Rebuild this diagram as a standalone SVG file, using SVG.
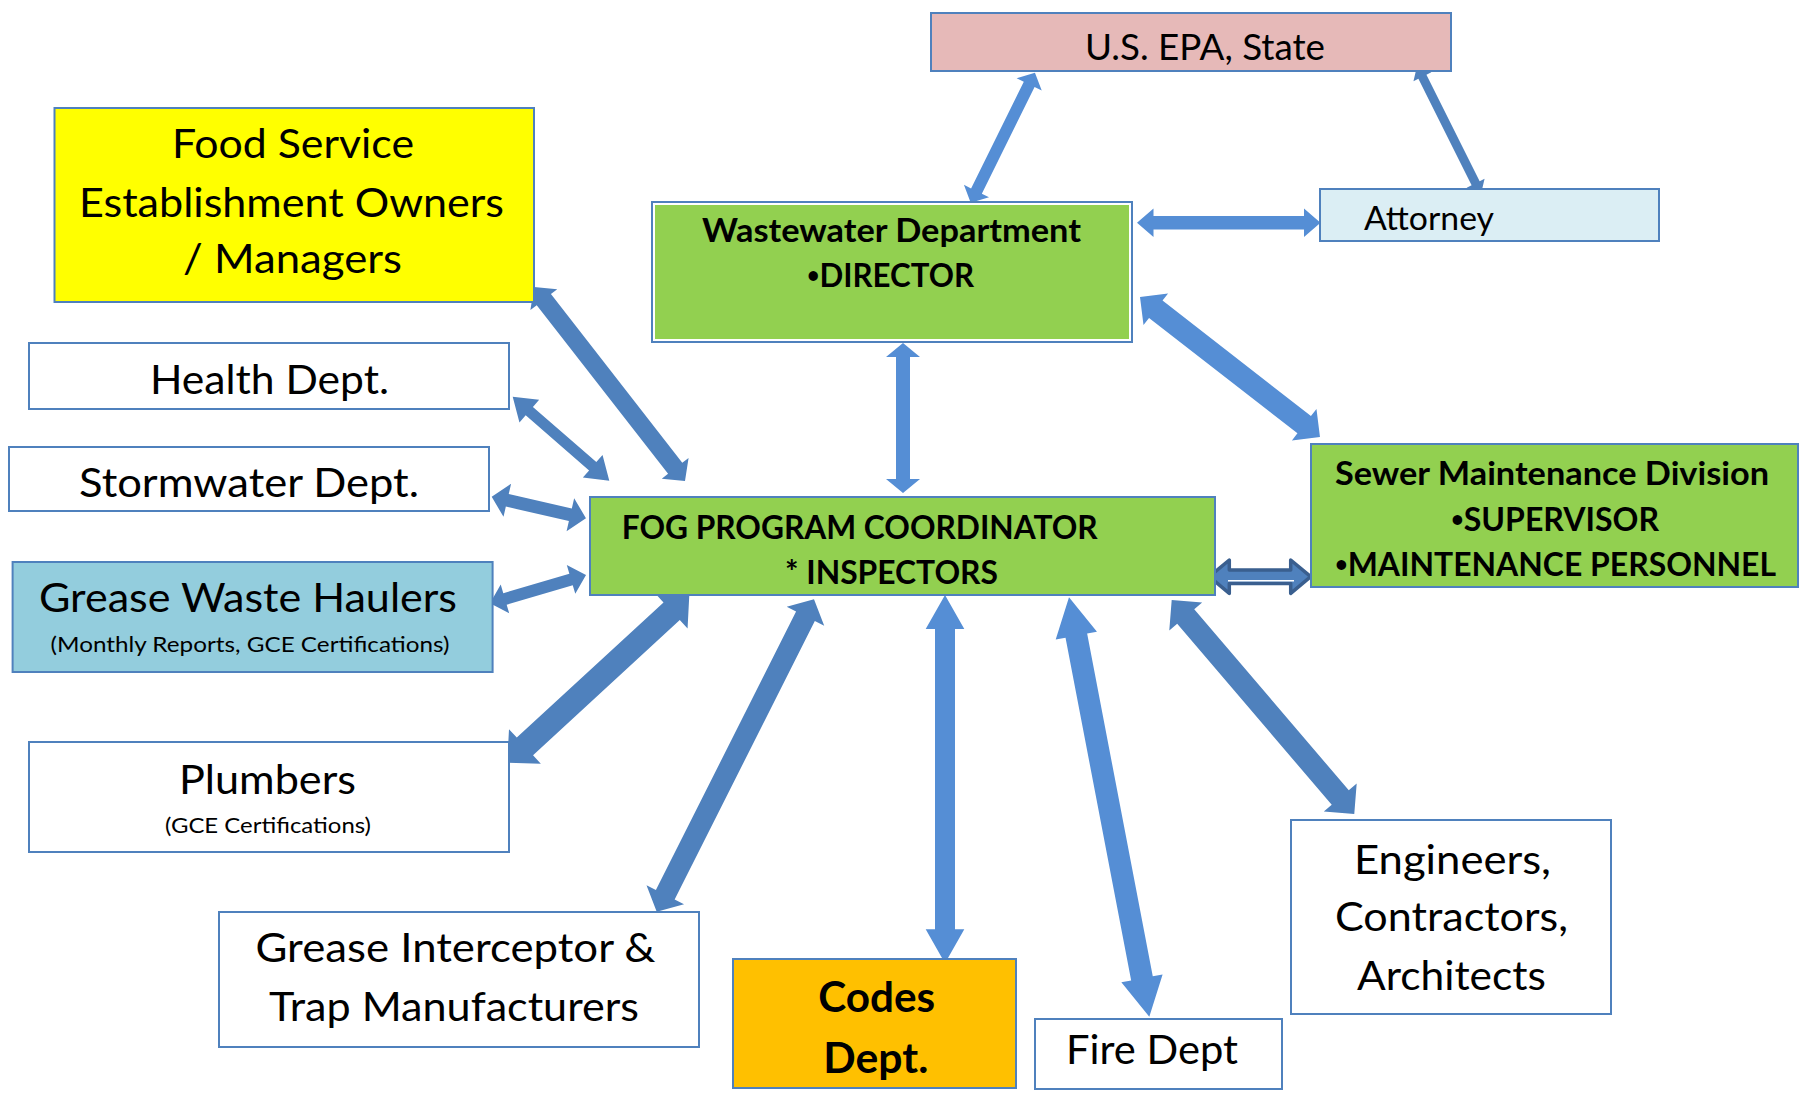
<svg xmlns="http://www.w3.org/2000/svg" width="1807" height="1095" viewBox="0 0 1807 1095">
  <style>
    .box { stroke: #4F81BD; stroke-width: 2; }
    .white { fill: #FFFFFF; }
    .green { fill: #92D050; }
    .t { font-family: Lato, "Liberation Sans", sans-serif; fill: #000000; }
    .c { text-anchor: middle; }
    .b { font-weight: bold; }
    .bul { font-size: 22px; }
    .lt { fill: #558ED5; }
    .dk { fill: #4F81BD; }
    .dbl { fill: #4F81BD; stroke: #3A5F8F; stroke-width: 3.5; stroke-linejoin: round; }
  </style>

  <!-- connectors: double-headed block arrows, drawn along +x then rotated into place -->
  <g id="connectors">
    <!-- Wastewater <-> U.S. EPA -->
    <path class="lt" transform="translate(970.7,202.7) rotate(-63.7)" d="M0,0 L13,-14 L13,-6 L132,-6 L132,-14 L145,0 L132,14 L132,6 L13,6 L13,14 Z"/>
    <!-- Attorney <-> U.S. EPA -->
    <path class="dk" transform="translate(1481,194) rotate(-116.57)" d="M0,0 L12,-10 L12,-4.5 L131,-4.5 L131,-10 L143,0 L131,10 L131,4.5 L12,4.5 L12,10 Z"/>
    <!-- Wastewater <-> Attorney -->
    <path class="lt" transform="translate(1137,222.7)" d="M0,0 L16.5,-14.3 L16.5,-6.7 L167,-6.7 L167,-14.3 L183.5,0 L167,14.3 L167,6.7 L16.5,6.7 L16.5,14.3 Z"/>
    <!-- Wastewater <-> Sewer Maintenance -->
    <path class="lt" transform="translate(1140,297) rotate(37.87)" d="M0,0 L20,-20 L20,-11 L208,-11 L208,-20 L228,0 L208,20 L208,11 L20,11 L20,20 Z"/>
    <!-- Wastewater <-> FOG -->
    <path class="lt" transform="translate(903,343) rotate(90)" d="M0,0 L14,-17 L14,-7 L136,-7 L136,-17 L150,0 L136,17 L136,7 L14,7 L14,17 Z"/>
    <!-- Food Service <-> FOG -->
    <path class="dk" transform="translate(534,287) rotate(52.1)" d="M0,0 L16,-17 L16,-9 L229.8,-9 L229.8,-17 L245.8,0 L229.8,17 L229.8,9 L16,9 L16,17 Z"/>
    <!-- Health <-> FOG -->
    <path class="dk" transform="translate(512.7,396.7) rotate(41)" d="M0,0 L22,-15 L22,-5.5 L106,-5.5 L106,-15 L128,0 L106,15 L106,5.5 L22,5.5 L22,15 Z"/>
    <!-- Stormwater <-> FOG -->
    <path class="dk" transform="translate(491.7,496.7) rotate(12.9)" d="M0,0 L16,-17 L16,-6.5 L80.7,-6.5 L80.7,-17 L96.7,0 L80.7,17 L80.7,6.5 L16,6.5 L16,17 Z"/>
    <!-- Grease Waste Haulers <-> FOG -->
    <path class="dk" transform="translate(490,603.3) rotate(-16.43)" d="M0,0 L15.6,-15 L15.6,-6 L84.5,-6 L84.5,-15 L100.1,0 L84.5,15 L84.5,6 L15.6,6 L15.6,15 Z"/>
    <!-- FOG <-> Plumbers -->
    <path class="dk" transform="translate(689.3,595) rotate(137.35)" d="M0,0 L24,-23.5 L24,-12 L223.5,-12 L223.5,-23.5 L247.5,0 L223.5,23.5 L223.5,12 L24,12 L24,23.5 Z"/>
    <!-- FOG <-> Grease Interceptor -->
    <path class="dk" transform="translate(814,599.3) rotate(116.72)" d="M0,0 L19,-21 L19,-10.5 L330.8,-10.5 L330.8,-21 L349.8,0 L330.8,21 L330.8,10.5 L19,10.5 L19,21 Z"/>
    <!-- FOG <-> Codes -->
    <path class="lt" transform="translate(945,595) rotate(90)" d="M0,0 L34,-19.3 L34,-10 L334.3,-10 L334.3,-19.3 L368.3,0 L334.3,19.3 L334.3,10 L34,10 L34,19.3 Z"/>
    <!-- FOG <-> Fire -->
    <path class="lt" transform="translate(1069,597.3) rotate(79.16)" d="M0,0 L39,-21 L39,-11 L388,-11 L388,-21 L427,0 L388,21 L388,11 L39,11 L39,21 Z"/>
    <!-- FOG <-> Engineers -->
    <path class="dk" transform="translate(1171.7,600) rotate(49.53)" d="M0,0 L21.6,-21.6 L21.6,-11.2 L259.7,-11.2 L259.7,-21.6 L281.3,0 L259.7,21.6 L259.7,11.2 L21.6,11.2 L21.6,21.6 Z"/>
    <!-- FOG <-> Sewer Maintenance (outlined) -->
    <path class="dbl" transform="translate(1209.3,576.7)" d="M0,0 L20,-16.7 L20,-6.7 L81.4,-6.7 L81.4,-16.7 L101.4,0 L81.4,16.7 L81.4,6.7 L20,6.7 L20,16.7 Z"/>
    <line x1="1228" y1="580.8" x2="1294" y2="580.8" stroke="#FFFFFF" stroke-width="1.5"/>
  </g>

  <g id="epa">
    <rect class="box" x="931" y="13" width="520" height="58" fill="#E6B9B8"/>
    <text class="t c" x="1205" y="60" font-size="36" textLength="240" lengthAdjust="spacingAndGlyphs">U.S. EPA, State</text>
  </g>

  <g id="wastewater">
    <rect class="box white" x="652" y="202" width="480" height="140"/>
    <rect class="green" x="655" y="205" width="474" height="134"/>
    <text class="t c b" x="891.5" y="242" font-size="32" textLength="379" lengthAdjust="spacingAndGlyphs">Wastewater Department</text>
    <text class="t c b" x="890.5" y="287" font-size="32" textLength="167" lengthAdjust="spacingAndGlyphs"><tspan class="bul" dy="-4">•</tspan><tspan dy="4">DIRECTOR</tspan></text>
  </g>

  <g id="attorney">
    <rect class="box" x="1320" y="189" width="339" height="52" fill="#DBEEF4"/>
    <text class="t" x="1364" y="230" font-size="32" textLength="130" lengthAdjust="spacingAndGlyphs">Attorney</text>
  </g>

  <g id="food-service">
    <rect class="box" x="54.5" y="108" width="479.5" height="194" fill="#FFFF00"/>
    <text class="t c" x="293" y="158" font-size="41" textLength="242" lengthAdjust="spacingAndGlyphs">Food Service</text>
    <text class="t c" x="291.5" y="217" font-size="41" textLength="425" lengthAdjust="spacingAndGlyphs">Establishment Owners</text>
    <text class="t c" x="292.5" y="273" font-size="41" textLength="219" lengthAdjust="spacingAndGlyphs">/ Managers</text>
  </g>

  <g id="health">
    <rect class="box white" x="29" y="343" width="480" height="66"/>
    <text class="t c" x="269.5" y="394" font-size="41" textLength="239" lengthAdjust="spacingAndGlyphs">Health Dept.</text>
  </g>

  <g id="stormwater">
    <rect class="box white" x="9" y="447" width="480" height="64"/>
    <text class="t c" x="249" y="497" font-size="41" textLength="340" lengthAdjust="spacingAndGlyphs">Stormwater Dept.</text>
  </g>

  <g id="grease-waste-haulers">
    <rect class="box" x="12.6" y="562" width="480" height="110" fill="#93CDDD"/>
    <text class="t c" x="248" y="612" font-size="40" textLength="418" lengthAdjust="spacingAndGlyphs">Grease Waste Haulers</text>
    <text class="t c" x="250" y="652" font-size="22" textLength="399" lengthAdjust="spacingAndGlyphs">(Monthly Reports, GCE Certifications)</text>
  </g>

  <g id="plumbers">
    <rect class="box white" x="29" y="742" width="480" height="110"/>
    <text class="t c" x="267.5" y="794" font-size="40" textLength="177" lengthAdjust="spacingAndGlyphs">Plumbers</text>
    <text class="t c" x="268" y="833" font-size="22" textLength="206" lengthAdjust="spacingAndGlyphs">(GCE Certifications)</text>
  </g>

  <g id="grease-interceptor">
    <rect class="box white" x="219" y="912" width="480" height="135"/>
    <text class="t c" x="455.5" y="962" font-size="40" textLength="400" lengthAdjust="spacingAndGlyphs">Grease Interceptor &amp;</text>
    <text class="t c" x="454" y="1021" font-size="40" textLength="370" lengthAdjust="spacingAndGlyphs">Trap Manufacturers</text>
  </g>

  <g id="fog-coordinator">
    <rect class="box green" x="590" y="497" width="625" height="98"/>
    <text class="t b" x="621.7" y="539" font-size="33" textLength="476" lengthAdjust="spacingAndGlyphs">FOG PROGRAM COORDINATOR</text>
    <text class="t b" x="785" y="584" font-size="33" textLength="213" lengthAdjust="spacingAndGlyphs">* INSPECTORS</text>
  </g>

  <g id="sewer-maintenance">
    <rect class="box green" x="1311" y="444" width="487" height="143"/>
    <text class="t c b" x="1552" y="485" font-size="32" textLength="434" lengthAdjust="spacingAndGlyphs">Sewer Maintenance Division</text>
    <text class="t c b" x="1555" y="531" font-size="32" textLength="208" lengthAdjust="spacingAndGlyphs"><tspan class="bul" dy="-4">•</tspan><tspan dy="4">SUPERVISOR</tspan></text>
    <text class="t c b" x="1555.5" y="576" font-size="32" textLength="441" lengthAdjust="spacingAndGlyphs"><tspan class="bul" dy="-4">•</tspan><tspan dy="4">MAINTENANCE PERSONNEL</tspan></text>
  </g>

  <g id="codes">
    <rect class="box" x="733" y="959" width="283" height="129" fill="#FFC000"/>
    <text class="t c b" x="876.7" y="1012" font-size="42" textLength="117" lengthAdjust="spacingAndGlyphs">Codes</text>
    <text class="t c b" x="875.8" y="1073" font-size="42" textLength="105" lengthAdjust="spacingAndGlyphs">Dept.</text>
  </g>

  <g id="fire">
    <rect class="box white" x="1035" y="1019" width="247" height="70"/>
    <text class="t" x="1066" y="1064" font-size="40" textLength="172" lengthAdjust="spacingAndGlyphs">Fire Dept</text>
  </g>

  <g id="engineers">
    <rect class="box white" x="1291" y="820" width="320" height="194"/>
    <text class="t c" x="1452.5" y="874" font-size="40" textLength="197" lengthAdjust="spacingAndGlyphs">Engineers,</text>
    <text class="t c" x="1451.5" y="931" font-size="40" textLength="233" lengthAdjust="spacingAndGlyphs">Contractors,</text>
    <text class="t c" x="1451.5" y="990" font-size="40" textLength="189" lengthAdjust="spacingAndGlyphs">Architects</text>
  </g>
</svg>
